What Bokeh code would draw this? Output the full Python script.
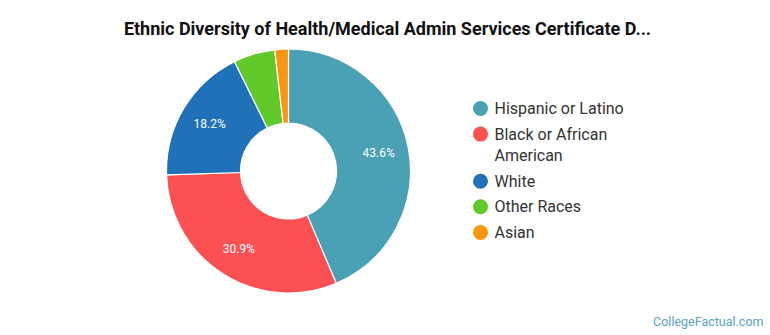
import math
from bokeh.plotting import figure
from bokeh.models import Range1d, ColumnDataSource
from bokeh.core.properties import value
from bokeh.embed import file_html
from bokeh.resources import INLINE

# Share of completers by ethnicity (percent)
categories = ["Hispanic or Latino", "Black or African American", "White", "Other Races", "Asian"]
legend_labels = ["Hispanic or Latino", "Black or African\nAmerican", "White", "Other Races", "Asian"]
shares = [43.6, 30.9, 18.2, 5.5, 1.8]
colors = ["#4aa0b4", "#fd5052", "#1f71b8", "#61c92a", "#fc950f"]
title_text = "Ethnic Diversity of Health/Medical Admin Services Certificate D..."

W, H = 770, 335
p = figure(width=W, height=H, output_backend="svg", toolbar_location=None,
           x_range=Range1d(0, W), y_range=Range1d(0, H), min_border=0)
p.axis.visible = False
p.grid.visible = False
p.outline_line_color = None
p.background_fill_color = "white"
p.border_fill_color = "white"

cx, cy = 288, H - 170.5
r_in, r_out = 48, 122

total = sum(shares)
starts, ends, mids = [], [], []
acc = 0.0
for s in shares:
    a0 = math.pi / 2 - 2 * math.pi * acc / total
    acc += s
    a1 = math.pi / 2 - 2 * math.pi * acc / total
    starts.append(a0)
    ends.append(a1)
    mids.append((a0 + a1) / 2)

src = ColumnDataSource(dict(start=starts, end=ends, color=colors, cat=categories))
p.annular_wedge(x=cx, y=cy, inner_radius=r_in, outer_radius=r_out,
                start_angle="start", end_angle="end", direction="clock",
                fill_color="color", line_color="white", line_width=1.2, source=src)

# Percentage labels on the larger slices
r_lab = 92
lx, ly, lt = [], [], []
for s, m in zip(shares, mids):
    if s >= 10:
        lx.append(cx + r_lab * math.cos(m))
        ly.append(cy + r_lab * math.sin(m))
        lt.append(f"{s:.1f}%")
p.text(x=lx, y=ly, text=lt, text_color="white", text_font=value("Roboto"),
       text_font_size="12px", text_align="center", text_baseline="middle")

# Title
p.text(x=[W / 2 + 2], y=[H - 28], text=[title_text], text_font=value("Roboto"),
       text_font_style="bold", text_font_size="18px", text_color="#111111",
       text_align="center", text_baseline="middle")

# Legend: one marker per entry, wrapped names continue on the next line
leg_x = 480
line_gap = 21.5
row_gap = 25.6
mx, my, tx, ty, tt = [], [], [], [], []
y = 108
for lab in legend_labels:
    lines = lab.split("\n")
    mx.append(leg_x)
    my.append(H - y)
    for k, ln in enumerate(lines):
        tx.append(leg_x + 14)
        ty.append(H - (y + k * line_gap))
        tt.append(ln)
    y += row_gap + (len(lines) - 1) * line_gap
p.scatter(x=mx, y=my, size=15, fill_color=colors, line_color=None)
p.text(x=tx, y=ty, text=tt, text_font=value("Roboto"), text_font_size="16px",
       text_color="#333333", text_align="left", text_baseline="middle")

# Source mark
p.text(x=[763], y=[H - 321], text=["CollegeFactual.com"], text_font=value("Roboto"),
       text_font_size="12.5px", text_color="#5aa3bf", text_align="right",
       text_baseline="middle")

open("out.html", "w").write(file_html(p, INLINE))
